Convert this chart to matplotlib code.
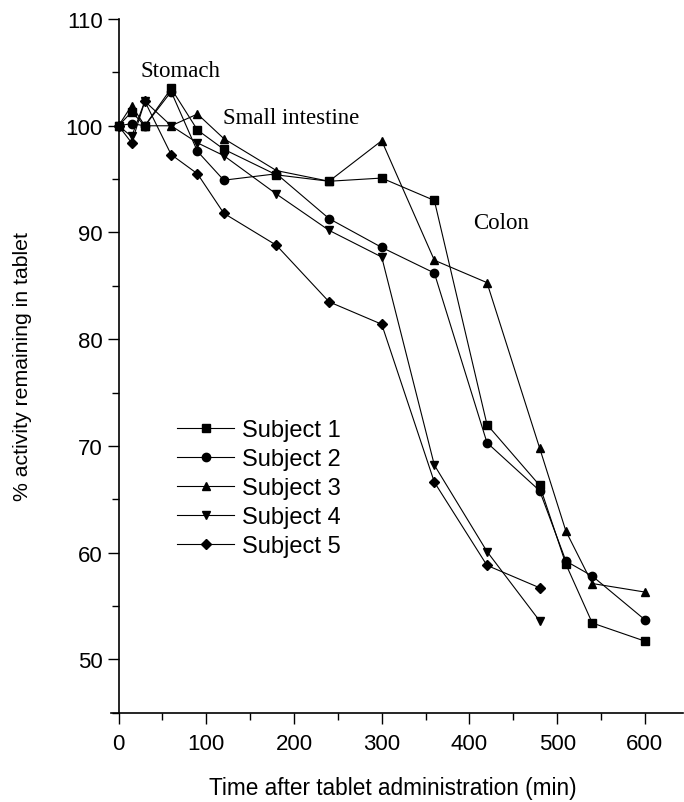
import matplotlib
matplotlib.use("Agg")
import matplotlib.pyplot as plt
from matplotlib.ticker import MultipleLocator

# sampling times (min)
times = [0, 15, 30, 60, 90, 120, 180, 240, 300, 360, 420, 480, 510, 540, 600]
times_short = times[:12]  # subjects 4 and 5 stop at 480 min

# % activity remaining
subject1 = [100, 101.3, 100.0, 103.5, 99.6, 97.8, 95.4, 94.8, 95.1, 93.0, 72.0, 66.3, 58.9, 53.4, 51.7]
subject2 = [100, 100.2, 100.0, 103.2, 97.6, 94.9, 95.5, 91.3, 88.6, 86.2, 70.3, 65.8, 59.2, 57.8, 53.7]
subject3 = [100, 101.9, 100.0, 100.0, 101.1, 98.8, 95.8, 94.8, 98.6, 87.4, 85.3, 69.8, 62.0, 57.1, 56.3]
subject4 = [100, 99.0, 102.3, 100.0, 98.4, 97.2, 93.6, 90.2, 87.7, 68.2, 60.1, 53.6]
subject5 = [100, 98.4, 102.3, 97.3, 95.5, 91.8, 88.8, 83.5, 81.4, 66.6, 58.8, 56.7]

labels = ["Subject 1", "Subject 2", "Subject 3", "Subject 4", "Subject 5"]
markers = ["s", "o", "^", "v", "D"]

plt.rcParams["font.family"] = ["Liberation Sans", "DejaVu Sans"]

fig = plt.figure(figsize=(6.84, 8.03), dpi=100)
ax = fig.add_axes([0.163, 0.1113, 0.835, 0.8637])

series = [(times, subject1), (times, subject2), (times, subject3),
          (times_short, subject4), (times_short, subject5)]
for (t, v), m, lab in zip(series, markers, labels):
    ms = 5 if m == "D" else 6
    ax.plot(t, v, color="black", lw=0.8, marker=m, ms=ms, label=lab)

ax.set_xlim(-8, 643)
ax.set_ylim(45, 110)
ax.spines["left"].set_position(("data", 0))
ax.spines["top"].set_visible(False)
ax.spines["right"].set_visible(False)
ax.spines["left"].set_linewidth(1.2)
ax.spines["bottom"].set_linewidth(1.2)

ax.xaxis.set_major_locator(MultipleLocator(100))
ax.xaxis.set_minor_locator(MultipleLocator(50))
ax.yaxis.set_minor_locator(MultipleLocator(5))
ax.set_yticks([50, 60, 70, 80, 90, 100, 110])
ax.tick_params(which="major", direction="out", length=8, width=1, labelsize=16)
ax.tick_params(axis="x", which="major", pad=7)
ax.tick_params(which="minor", direction="out", length=5, width=1)

ax.set_xlabel("Time after tablet administration (min)", fontsize=16.3)
ax.xaxis.set_label_coords(0.492, -0.092)
ax.set_ylabel("% activity remaining in tablet", fontsize=15.3)
ax.yaxis.set_label_coords(-0.14, 0.5)

serif = ["Liberation Serif", "DejaVu Serif"]
ax.text(71, 105.2, "Stomach", fontsize=16.5, family=serif, ha="center", va="center")
ax.text(197, 100.75, "Small intestine", fontsize=16.5, family=serif, ha="center", va="center")
ax.text(436, 90.9, "Colon", fontsize=16.5, family=serif, ha="center", va="center")

ax.legend(loc="upper left", bbox_to_anchor=(0.099, 0.437), frameon=False,
          fontsize=17, handlelength=2.4, handletextpad=0.34, labelspacing=0.3,
          borderaxespad=0)

fig.savefig("out.png", dpi=100)
